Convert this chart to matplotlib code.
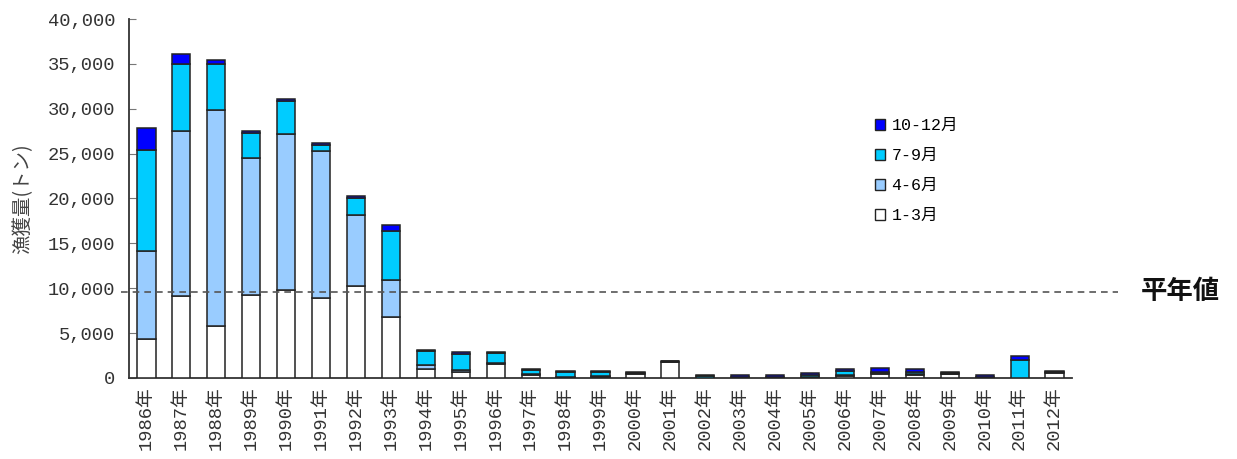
import matplotlib
matplotlib.use("Agg")
import matplotlib.pyplot as plt
from matplotlib.patches import Patch
import numpy as np

years = [f"{y}年" for y in range(1986, 2013)]

# Quarterly catch (tonnes)
q1 = [4300, 9100, 5800, 9300, 9800, 8900, 10300, 6750, 950, 700, 1600, 300, 50, 150,
      480, 1800, 30, 30, 30, 50, 200, 400, 300, 450, 50, 20, 600]
q2 = [9850, 18400, 24100, 15250, 17400, 16350, 7900, 4200, 500, 200, 50, 150, 50, 100,
      20, 20, 20, 20, 20, 30, 100, 100, 150, 30, 20, 20, 20]
q3 = [11220, 7500, 5100, 2800, 3700, 700, 1900, 5400, 1550, 1800, 1100, 400, 600, 450,
      30, 20, 200, 80, 50, 300, 450, 150, 250, 50, 50, 1950, 50]
q4 = [2450, 1050, 400, 200, 200, 250, 200, 700, 150, 150, 100, 150, 80, 80,
      100, 100, 50, 150, 180, 130, 200, 450, 300, 100, 200, 450, 140]

normal_value = 9600
series_labels = ["1-3月", "4-6月", "7-9月", "10-12月"]
series_colors = ["#FFFFFF", "#99CCFF", "#00CCFF", "#0000FF"]
yticks = [0, 5000, 10000, 15000, 20000, 25000, 30000, 35000, 40000]

num_font = ["Liberation Mono", "Noto Sans CJK JP"]

fig = plt.figure(figsize=(12.37, 4.59), dpi=100)
ax = fig.add_axes([0.1043, 0.1765, 0.7623, 0.7821])

x = np.arange(len(years))
bottom = np.zeros(len(years))
handles = []
for vals, lab, col in zip([q1, q2, q3, q4], series_labels, series_colors):
    vals = np.array(vals, dtype=float)
    ax.bar(x, vals, bottom=bottom, width=0.52, color=col, edgecolor="#222222",
           linewidth=1.1, zorder=3)
    bottom += vals
    handles.append(Patch(facecolor=col, edgecolor="#222222", linewidth=1.0, label=lab))

ax.set_xlim(-0.5, len(years) - 0.5)
ax.set_ylim(0, 40000)

# normal-year reference line
ax.plot([-0.009, 1.049], [normal_value, normal_value], transform=ax.get_yaxis_transform(),
        linestyle=(0, (4, 3)), color="#555555", linewidth=1.2, clip_on=False, zorder=4)
ax.text(1.115, normal_value, "平年値", transform=ax.get_yaxis_transform(),
        ha="center", va="center", fontsize=19, fontweight="bold",
        family=["Noto Sans CJK JP"], color="#111111")

for s in ["top", "right"]:
    ax.spines[s].set_visible(False)
for s in ["left", "bottom"]:
    ax.spines[s].set_color("#333333")
    ax.spines[s].set_linewidth(1.3)

ax.set_yticks(yticks)
ax.set_yticklabels([f"{v:,}" for v in yticks], family=num_font, fontsize=13.5, color="#333333")
ax.tick_params(axis="y", direction="in", length=5, color="#777777", pad=10)
ax.set_xticks(x)
ax.set_xticklabels(years, rotation=90, family=num_font, fontsize=13.5, color="#333333")
ax.tick_params(axis="x", length=0, pad=6)

ax.set_ylabel("漁獲量(トン)", family=["Noto Sans CJK JP"], fontsize=14, color="#444444",
              labelpad=10)

ax.legend(handles=handles[::-1], loc="upper left", bbox_to_anchor=(0.775, 0.765),
          frameon=False, prop={"family": num_font, "size": 12},
          handlelength=0.6, handleheight=0.6, handletextpad=0.4, labelspacing=0.9)

fig.savefig("out.png", dpi=100)
